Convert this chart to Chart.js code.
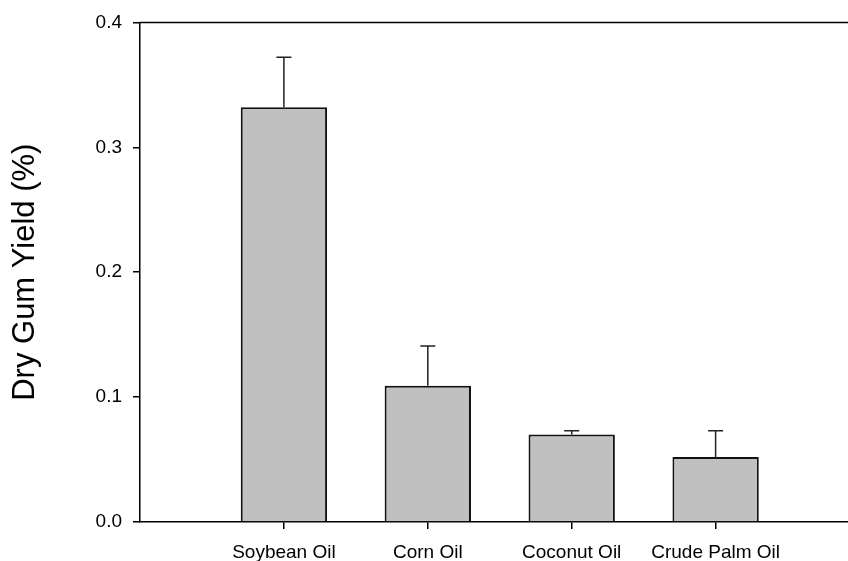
<!DOCTYPE html>
<html>
<head>
<meta charset="utf-8">
<script src="https://cdn.jsdelivr.net/npm/chart.js@4"></script>
<style>
  html, body { margin: 0; padding: 0; background: #fff; }
  #wrap { width: 848px; height: 561px; }
</style>
</head>
<body>
<div id="wrap"><canvas id="gum-chart" width="848" height="561"></canvas></div>
<script>
// values
const oils = ['Soybean Oil', 'Corn Oil', 'Coconut Oil', 'Crude Palm Oil'];
const oilPos = [1, 2, 3, 4];
const yieldVals = [0.332, 0.109, 0.070, 0.052];
const yieldErr = [0.040, 0.032, 0.003, 0.021];
const yTicks = [0, 0.1, 0.2, 0.3, 0.4];

const FONT = 'Liberation Sans, Arial, sans-serif';

// upper whisker + cap on each bar
const errorBars = {
  id: 'errorBars',
  afterDatasetsDraw(chart) {
    const ctx = chart.ctx;
    const y = chart.scales.y;
    const meta = chart.getDatasetMeta(0);
    ctx.save();
    ctx.strokeStyle = '#222';
    ctx.lineWidth = 1.5;
    meta.data.forEach((bar, i) => {
      const top = y.getPixelForValue(yieldVals[i] + yieldErr[i]);
      ctx.beginPath();
      ctx.moveTo(bar.x, bar.y);
      ctx.lineTo(bar.x, top);
      ctx.moveTo(bar.x - 7.5, top);
      ctx.lineTo(bar.x + 7.5, top);
      ctx.stroke();
    });
    ctx.restore();
  }
};

// frame line along the top of the plot
const topLine = {
  id: 'topLine',
  afterDraw(chart) {
    const { ctx, chartArea } = chart;
    ctx.save();
    ctx.strokeStyle = '#000';
    ctx.lineWidth = 1.5;
    ctx.beginPath();
    ctx.moveTo(chartArea.left, chartArea.top);
    ctx.lineTo(chartArea.right, chartArea.top);
    ctx.stroke();
    ctx.restore();
  }
};

const pts = oilPos.map((p, i) => ({ x: p, y: yieldVals[i] }));

new Chart(document.getElementById('gum-chart'), {
  type: 'bar',
  data: {
    datasets: [{
      data: pts,
      backgroundColor: '#c0c0c0',
      borderColor: '#111',
      borderWidth: 2,
      barPercentage: 1,
      categoryPercentage: 0.6
    }]
  },
  options: {
    responsive: false,
    animation: false,
    layout: { padding: { top: 22, right: 0, left: 0, bottom: 0 } },
    plugins: { legend: { display: false }, tooltip: { enabled: false } },
    scales: {
      x: {
        type: 'linear',
        min: 0,
        max: 4.92,
        offset: false,
        afterBuildTicks: (s) => { s.ticks = oilPos.map(v => ({ value: v })); },
        afterFit: (s) => { s.height = 39; },
        border: { color: '#000', width: 1.5 },
        grid: { offset: false, drawOnChartArea: false, drawTicks: true, tickLength: 7, color: '#000', lineWidth: 1.5 },
        ticks: {
          color: '#000',
          font: { family: FONT, size: 19 },
          padding: 12,
          maxRotation: 0,
          autoSkip: false,
          callback: (v) => oils[oilPos.indexOf(v)] || ''
        }
      },
      y: {
        min: 0,
        max: 0.4,
        afterBuildTicks: (s) => { s.ticks = yTicks.map(v => ({ value: v })); },
        afterFit: (s) => { s.width = 140; },
        border: { color: '#000', width: 1.5 },
        grid: { drawOnChartArea: false, drawTicks: true, tickLength: 7, color: '#000', lineWidth: 1.5 },
        ticks: {
          color: '#000',
          font: { family: FONT, size: 19 },
          padding: 11,
          callback: (v) => v.toFixed(1)
        },
        title: {
          display: true,
          text: 'Dry Gum Yield (%)',
          color: '#000',
          font: { family: FONT, size: 31 },
          padding: { top: 7, bottom: 0 }
        }
      }
    }
  },
  plugins: [errorBars, topLine]
});
</script>
</body>
</html>
